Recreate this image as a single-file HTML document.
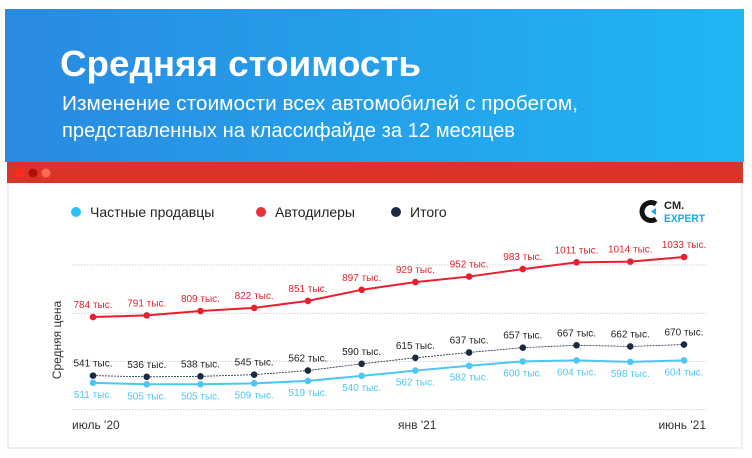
<!DOCTYPE html>
<html><head><meta charset="utf-8"><style>
body{margin:0;background:#fff;font-family:"Liberation Sans",sans-serif;}
svg{display:block}
</style></head><body>
<svg id="chart" width="752" height="458" viewBox="0 0 752 458">
<defs><linearGradient id="hg" x1="0" x2="1" y1="0" y2="0"><stop offset="0" stop-color="#2a8ae0"/><stop offset="1" stop-color="#1fb6f5"/></linearGradient></defs>
<rect x="8" y="160" width="734" height="288" fill="#fff" stroke="#ddd"/>
<rect x="5" y="9" width="739" height="153" fill="url(#hg)"/>
<text x="60" y="76" fill="#fff" font-size="36" font-weight="bold" textLength="361" lengthAdjust="spacingAndGlyphs">Средняя стоимость</text>
<text x="62" y="110" fill="#fff" font-size="20" textLength="516" lengthAdjust="spacingAndGlyphs">Изменение стоимости всех автомобилей с пробегом,</text>
<text x="62" y="137" fill="#fff" font-size="20" textLength="453" lengthAdjust="spacingAndGlyphs">представленных на классифайде за 12 месяцев</text>
<rect x="7" y="162" width="736" height="21" fill="#d93427"/>
<circle cx="20" cy="173" r="4.5" fill="#ff2a1a"/>
<circle cx="33" cy="173" r="4.5" fill="#b00e0a"/>
<circle cx="46" cy="173" r="4.5" fill="#ff6a55"/>
<g font-size="14" fill="#222">
<g><circle cx="76" cy="212" r="5" fill="#29c4f6"/><text x="90" y="217">Частные продавцы</text></g>
<g><circle cx="261" cy="212" r="5" fill="#e8323c"/><text x="275" y="217">Автодилеры</text></g>
<g><circle cx="396" cy="212" r="5" fill="#1c2b45"/><text x="410" y="217">Итого</text></g>
</g>
<g>
<path d="M656 204 A9 9 0 1 0 656 219" fill="none" stroke="#111" stroke-width="5"/>
<path d="M656 208 l-5 3.5 l5 3.5z" fill="#1aa8e8"/>
<text x="664" y="209" font-size="11" font-weight="bold" fill="#222">CM.</text>
<text x="664" y="222" font-size="11" font-weight="bold" fill="#1aa8e8" textLength="41" lengthAdjust="spacingAndGlyphs">EXPERT</text>
</g>
<text transform="translate(61,340) rotate(-90)" text-anchor="middle" font-size="12" fill="#333">Средняя цена</text>
<g id="grid"></g><g id="series"></g>
</svg>
<script>
const months=["июль '20","авг '20","сен '20","окт '20","ноя '20","дек '20","янв '21","фев '21","мар '21","апр '21","май '21","июнь '21"];
const dealers=[784,791,809,822,851,897,929,952,983,1011,1014,1033];
const total=[541,536,538,545,562,590,615,637,657,667,662,670];
const privateSellers=[511,505,505,509,519,540,562,582,600,604,598,604];
const gridValues=[400,600,800,1000];
const xLabelIdx=[0,6,11];
const NS="http://www.w3.org/2000/svg";
const x=i=>93+i*(684-93)/11;
const y=v=>409.6-(v-400)*144.6/600;
const g=document.getElementById('grid'),s=document.getElementById('series');
function mk(tag,attrs,parent){const e=document.createElementNS(NS,tag);for(const k in attrs)e.setAttribute(k,attrs[k]);parent.appendChild(e);return e;}
gridValues.forEach(v=>{
 const l=mk('line',{x1:72,x2:706,y1:y(v),y2:y(v),stroke:'#ccc','stroke-dasharray':'1.5 1.5'},g);
 
 
});
xLabelIdx.forEach((i,k)=>{
 const anchor=k==2?'end':'start';
 const xx=k==0?72:(k==2?706:398);
 const t=mk('text',{x:xx,y:429,'font-size':12,fill:'#333','text-anchor':anchor},g);
 t.textContent=months[i];
 
 
});
function series(data,color,width,dash,labelColor,below,name){
 const p=mk('polyline',{points:data.map((v,i)=>x(i)+','+y(v)).join(' '),fill:'none',stroke:color,'stroke-width':width},s);
 if(dash)p.setAttribute('stroke-dasharray',dash);
 
 
 data.forEach((v,i)=>{
  const c=mk('circle',{cx:x(i),cy:y(v),r:3.3,fill:color},s);
  
  
  const t=mk('text',{x:x(i),y:below?y(v)+15:y(v)-9,'font-size':10,fill:labelColor,'text-anchor':'middle'},s);
  t.textContent=v+' тыс.';
  
  
 });
}
series(privateSellers,'#4cc6f5',2,null,'#4cc6f5',true,'private');
series(total,'#1c2b45',0.8,'2 1','#222',false,'total');
series(dealers,'#e8202e',2,null,'#e8202e',false,'dealers');
</script>
</body></html>
